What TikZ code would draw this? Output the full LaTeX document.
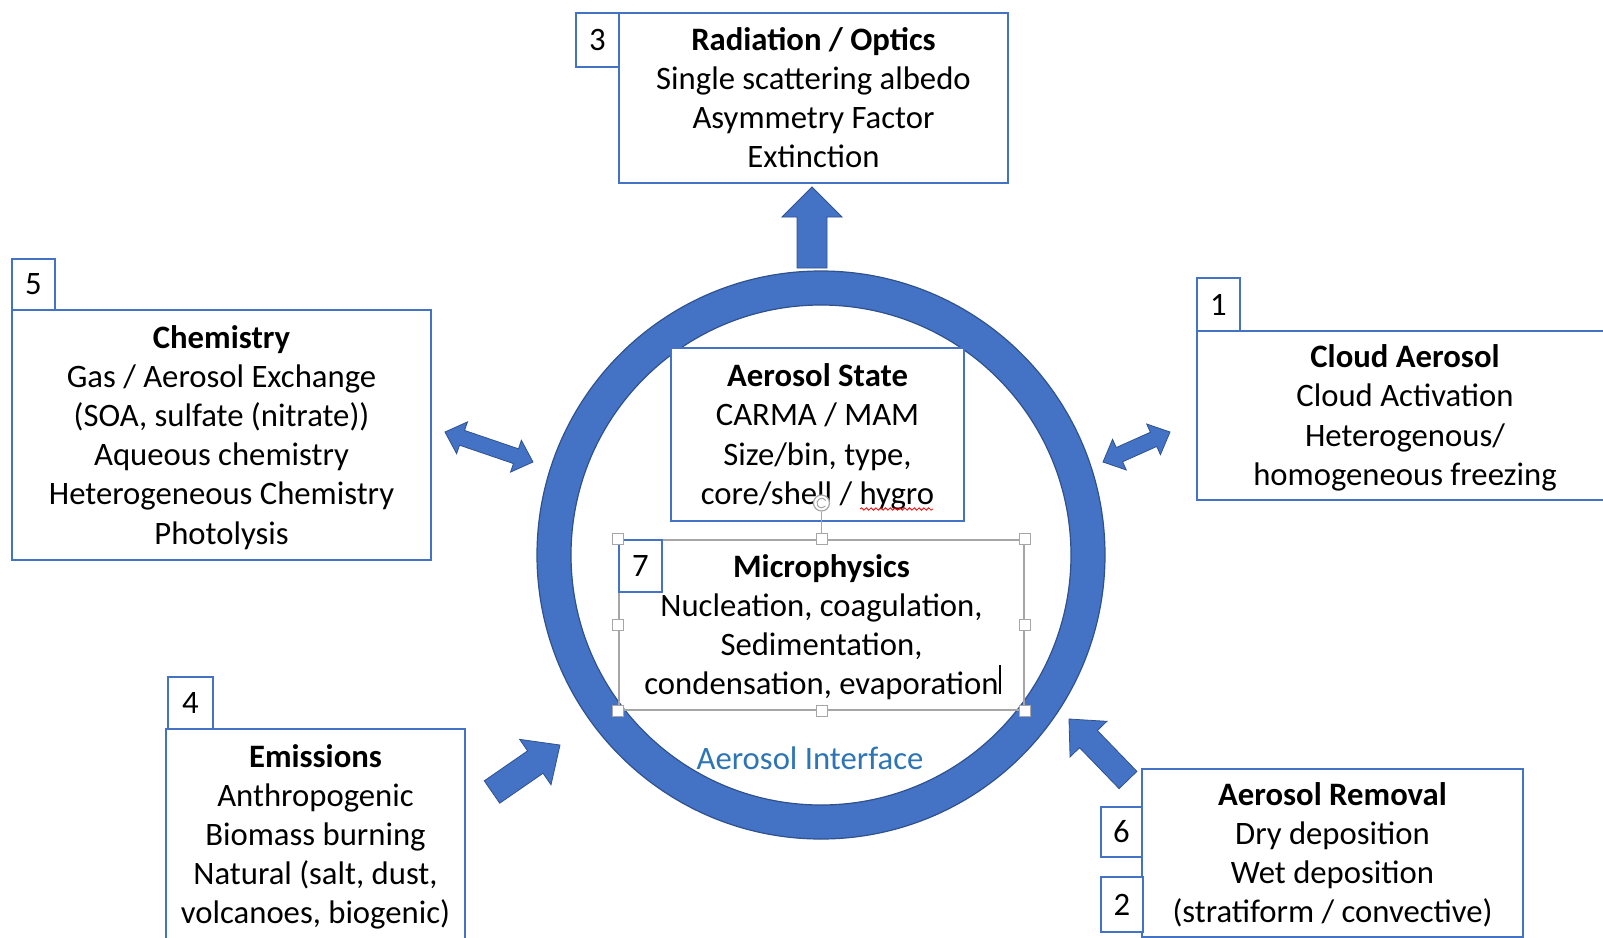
\documentclass[tikz,border=0pt]{standalone}
\usepackage{fontspec}
\setmainfont{Carlito}
\usetikzlibrary{calc,decorations.pathmorphing}
\definecolor{ringblue}{HTML}{4472C4}
\definecolor{ringedge}{HTML}{2F528F}
\definecolor{boxblue}{HTML}{4472C4}
\definecolor{ifblue}{HTML}{2E75B6}
\definecolor{selgray}{HTML}{A6A6A6}
\newcommand\topst{\rule{0pt}{15pt}}
\newcommand\botst{\rule[-4pt]{0pt}{4pt}}
% single block arrow: tail, tip, shaft half width, head half width, head length
\newcommand\singleblock[5]{%
  \coordinate (sa-b) at ($(#2)!#5!(#1)$);
  \filldraw[blockarrow] ($(#1)!#3!90:(#2)$) -- ($(sa-b)!#3!90:(#2)$) -- ($(sa-b)!#4!90:(#2)$) -- (#2)
    -- ($(sa-b)!#4!-90:(#2)$) -- ($(sa-b)!#3!-90:(#2)$) -- ($(#1)!#3!-90:(#2)$) -- cycle;}
% double block arrow: tip A, tip B, shaft half width, head half width, head length
\newcommand\doubleblock[5]{%
  \coordinate (da-a) at ($(#1)!#5!(#2)$);
  \coordinate (da-b) at ($(#2)!#5!(#1)$);
  \filldraw[blockarrow] (#1) -- ($(da-a)!#4!90:(#2)$) -- ($(da-a)!#3!90:(#2)$) -- ($(da-b)!#3!-90:(#1)$)
    -- ($(da-b)!#4!-90:(#1)$) -- (#2) -- ($(da-b)!#4!90:(#1)$) -- ($(da-b)!#3!90:(#1)$)
    -- ($(da-a)!#3!-90:(#2)$) -- ($(da-a)!#4!-90:(#2)$) -- cycle;}
\tikzset{
  txt/.style={font=\fontsize{16.35}{19.6}\selectfont, text=black},
  box/.style={txt, draw=boxblue, line width=0.75pt, fill=white, align=center, inner sep=0pt},
  numbox/.style={txt, draw=boxblue, line width=0.75pt, fill=white, inner sep=0pt},
  selbox/.style={txt, draw=selgray, line width=0.75pt, align=center, inner sep=0pt},
  hnd/.style={draw=selgray, fill=white, line width=0.5pt, minimum size=5.5pt, inner sep=0pt},
  blockarrow/.style={fill=ringblue, draw=ringedge, line width=0.4pt, line join=miter},
}
\begin{document}
\begin{tikzpicture}[x=0.5pt,y=-0.5pt]
\useasboundingbox (0,0) rectangle (1603,938);
\fill[white] (0,0) rectangle (1603,938);
\begin{scope}
\clip (0,0) rectangle (1603,938);

% ring
\node[circle, draw=ringblue, line width=17pt, minimum size=267pt, inner sep=0pt] (ring) at (821,555) {};
\draw[ringedge, line width=0.6pt] (ring.center) circle[radius=125pt];
\draw[ringedge, line width=0.6pt] (ring.center) circle[radius=142pt];

% block arrows
\coordinate (up-t) at (812,268);   \coordinate (up-h) at (812,187);
\coordinate (em-t) at (492,792);   \coordinate (em-h) at (560,745);
\coordinate (rm-t) at (1128,780);  \coordinate (rm-h) at (1069,719);
\coordinate (ch-a) at (445,432);   \coordinate (ch-b) at (533,462);
\coordinate (cl-a) at (1103,462);  \coordinate (cl-b) at (1170,432);
\singleblock{up-t}{up-h}{7.5pt}{15pt}{15pt}
\singleblock{em-t}{em-h}{6.8pt}{13.8pt}{15pt}
\singleblock{rm-t}{rm-h}{6.2pt}{12.8pt}{14pt}
\doubleblock{ch-a}{ch-b}{3.9pt}{8.4pt}{9pt}
\doubleblock{cl-a}{cl-b}{3.9pt}{8.4pt}{9pt}

% outer boxes
\node[box, minimum width=194.5pt, minimum height=85pt] (rad) at (813.5,98)
  {\topst\textbf{Radiation / Optics}\\Single scattering albedo\\Asymmetry Factor\\Extinction\botst};
\node[numbox, minimum width=21.5pt, minimum height=27pt] (n3) at (597.5,40) {3};

\node[box, minimum width=209.5pt, minimum height=125pt] (chem) at (221.5,435)
  {\topst\textbf{Chemistry}\\Gas / Aerosol Exchange\\(SOA, sulfate (nitrate))\\Aqueous chemistry\\Heterogeneous Chemistry\\Photolysis\botst};
\node[numbox, minimum width=21.5pt, minimum height=25.5pt] (n5) at (33.5,284.5) {5};

\node[box, minimum width=208pt, minimum height=84.5pt] (cloud) at (1405,415.5)
  {\topst\textbf{Cloud Aerosol}\\Cloud Activation\\Heterogenous/\\homogeneous freezing\botst};
\node[numbox, minimum width=21.5pt, minimum height=26.5pt] (n1) at (1218.5,304.5) {1};

\node[box, minimum width=149.5pt, minimum height=105.5pt] (emis) at (315.5,834.5)
  {\topst\textbf{Emissions}\\Anthropogenic\\Biomass burning\\Natural (salt, dust,\\volcanoes, biogenic)\botst};
\node[numbox, minimum width=22.5pt, minimum height=26pt] (n4) at (190.5,703) {4};

\node[box, minimum width=190.5pt, minimum height=84pt] (remv) at (1332.5,853)
  {\topst\textbf{Aerosol Removal}\\Dry deposition\\Wet deposition\\(stratiform / convective)\botst};
\node[numbox, minimum width=20.5pt, minimum height=25pt] (n6) at (1121.5,832) {6};
\node[numbox, minimum width=21pt, minimum height=27.5pt] (n2) at (1122,904.5) {2};

% inner boxes
\node[box, minimum width=146.5pt, minimum height=86.5pt] (state) at (817.5,434.5)
  {\topst\textbf{Aerosol State}\\CARMA / MAM\\Size/bin, type,\\core/shell / hygro\botst};
\node[selbox, minimum width=202.5pt, minimum height=85pt] (micro) at (821.5,625)
  {\topst\textbf{Microphysics}\\Nucleation, coagulation,\\Sedimentation,\\condensation, evaporation\botst};
\node[numbox, minimum width=21.5pt, minimum height=26pt] (n7) at (640.5,566) {7};

% spell-check squiggle and text cursor
\coordinate (sq-a) at (860,509); \coordinate (sq-b) at (933,509);
\draw[red, line width=0.4pt, decorate, decoration={snake, amplitude=0.6pt, segment length=2.4pt}] (sq-a) -- (sq-b);
\coordinate (cur-a) at (1000,665); \coordinate (cur-b) at (1000,694);
\draw[black, line width=0.6pt] (cur-a) -- (cur-b);

% selection handles
\node[hnd] (h1) at (micro.north west) {};
\node[hnd] (h2) at (micro.north) {};
\node[hnd] (h3) at (micro.north east) {};
\node[hnd] (h4) at (micro.west) {};
\node[hnd] (h5) at (micro.east) {};
\node[hnd] (h6) at (micro.south west) {};
\node[hnd] (h7) at (micro.south) {};
\node[hnd] (h8) at (micro.south east) {};
\node[circle, draw=selgray, fill=white, line width=0.6pt, minimum size=8pt, inner sep=0pt] (rot) at (821.5,503) {};
\draw[selgray, line width=0.5pt] (rot) -- (h2);
\draw[selgray, line width=0.5pt] ($(rot.center)+(2.2pt,1.2pt)$) arc[start angle=30, end angle=320, radius=2.4pt];

% label
\node[txt, text=ifblue] (ifc) at (810,758) {Aerosol Interface};
\end{scope}
\end{tikzpicture}
\end{document}
